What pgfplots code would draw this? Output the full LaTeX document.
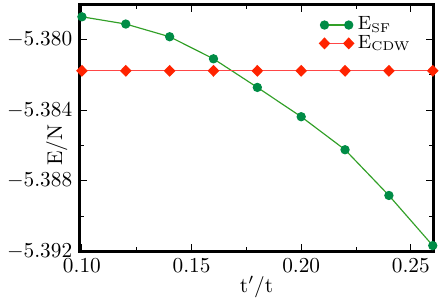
\documentclass[border=0pt]{standalone}
\usepackage{pgfplots}
\pgfplotsset{compat=1.18}
\definecolor{sfmark}{RGB}{0,140,70}
\definecolor{sfline}{RGB}{50,160,40}
\definecolor{cdwmark}{RGB}{255,35,0}
\definecolor{cdwline}{RGB}{255,70,70}
\begin{document}
\begin{tikzpicture}
\begin{axis}[
  scale only axis,
  clip=false,
  width=166pt, height=116pt,
  xmin=0.099, xmax=0.2603,
  ymin=-5.392, ymax=-5.378,
  xtick={0.10,0.15,0.20,0.25},
  ytick={-5.380,-5.384,-5.388,-5.392},
  minor x tick num=1,
  minor y tick num=1,
  tick align=inside,
  major tick length=3.5pt,
  minor tick length=2pt,
  axis line style={line width=1.4pt},
  tick style={black, line width=0.4pt},
  xticklabel style={/pgf/number format/.cd, fixed, fixed zerofill, precision=2},
  yticklabel style={/pgf/number format/.cd, fixed, fixed zerofill, precision=3},
  scaled ticks=false,
  xlabel={t$'$/t},
  ylabel={E/N},
  xlabel style={yshift=5pt},
  ylabel style={at={(axis description cs:-0.065,0.43)}, anchor=center},
  legend style={draw=none, fill=none, at={(0.955,0.985)}, anchor=north east, font=\small, row sep=-3pt,
    legend cell align=left, inner xsep=1pt},
  legend image code/.code={\draw[#1] plot coordinates {(0cm,0cm) (0.4cm,0cm)};},
]
\addplot[sfline, line width=0.55pt, mark=*, mark size=1.9pt, mark options={draw=sfmark, fill=sfmark}]
coordinates {
(0.10,-5.37871) (0.12,-5.37912) (0.14,-5.37984) (0.16,-5.38109) (0.18,-5.38271)
(0.20,-5.38437) (0.22,-5.38624) (0.24,-5.38883) (0.26,-5.39167)
};
\addlegendentry{E$_{\mathrm{SF}}$}
\addplot[cdwline, line width=0.55pt, mark=diamond*, mark size=2.4pt, mark options={draw=cdwmark, fill=cdwmark, xscale=1.3}]
coordinates {
(0.10,-5.38177) (0.12,-5.38177) (0.14,-5.38177) (0.16,-5.38177) (0.18,-5.38177)
(0.20,-5.38177) (0.22,-5.38177) (0.24,-5.38177) (0.26,-5.38177)
};
\addlegendentry{E$_{\mathrm{CDW}}$}
\end{axis}
\path (current axis.north east) ++(4.5pt,2pt) coordinate (pad);
\path (pad) rectangle (pad);
\end{tikzpicture}
\end{document}
